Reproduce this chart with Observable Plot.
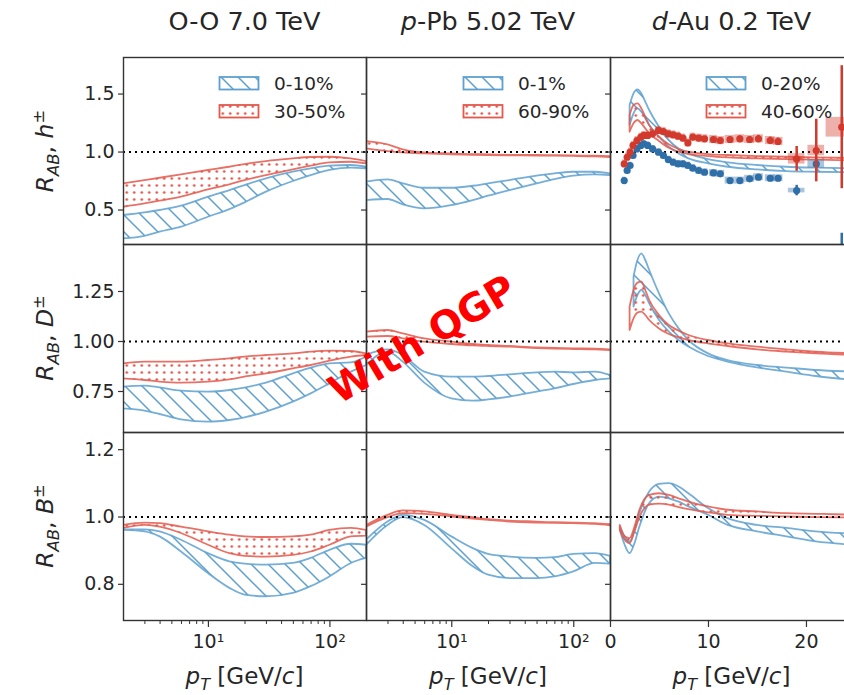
<!DOCTYPE html>
<html>
<head>
<meta charset="utf-8">
<script src="https://cdn.jsdelivr.net/npm/d3@7"></script>
<script src="https://cdn.jsdelivr.net/npm/@observablehq/plot@0.6"></script>
<style>
html, body { margin: 0; padding: 0; background: #fff; }
#fig { position: relative; width: 844px; height: 695px; overflow: hidden; font-family: "DejaVu Sans", sans-serif; color: #262626; }
#fig > * { position: absolute; }
.title { font-size: 25.5px; transform: translateX(-50%); white-space: nowrap; top: 6px; }
.ylab { font-size: 23.5px; white-space: nowrap; transform: translate(-50%, -50%) rotate(-90deg); left: 45px; }
.xlab { font-size: 23px; line-height: 23px; white-space: nowrap; transform: translateX(-50%); top: 665px; }
sub, sup { font-size: 70%; line-height: 0; }
.qgp { font-family: "DejaVu Sans", sans-serif; font-weight: bold; font-size: 39px; color: #ff0000; white-space: nowrap; left: 422px; top: 339px; transform: translate(-50%, -50%) rotate(-31deg); z-index: 10; }
</style>
</head>
<body>
<svg width="0" height="0" style="position:absolute;left:0;top:0">
  <defs>
    <pattern id="hatchB" patternUnits="userSpaceOnUse" width="17" height="17">
      <path d="M-3,-3L20,20M-3,14L3,20M14,-3L20,3" stroke="#5da0cf" stroke-width="1.5" fill="none"/>
    </pattern>
    <pattern id="dotsR" patternUnits="userSpaceOnUse" width="7.5" height="7">
      <circle cx="3.75" cy="3.5" r="1.35" fill="#e3584b"/>
    </pattern>
  </defs>
</svg>
<div id="fig"></div>
<script>
// ---------------- data ----------------
const colTitles = ["O-O 7.0 TeV", "<i>p</i>-Pb 5.02 TeV", "<i>d</i>-Au 0.2 TeV"];
const rowLabels = ["<i>R</i><sub><i>AB</i></sub>, <i>h</i><sup>±</sup>", "<i>R</i><sub><i>AB</i></sub>, <i>D</i><sup>±</sup>", "<i>R</i><sub><i>AB</i></sub>, <i>B</i><sup>±</sup>"];
const xLabel = "<i>p</i><sub><i>T</i></sub> [GeV/<i>c</i>]";
const legendLabels = [["0-10%", "30-50%"], ["0-1%", "60-90%"], ["0-20%", "40-60%"]];

const ptLog = [2, 3, 4, 6, 10, 15, 20, 30, 50, 70, 100, 150, 200];
const ptDau = [2.0, 2.4, 2.8, 3.2, 3.6, 4.0, 5, 6, 7, 8, 10, 12, 15, 18, 21, 25];
const ptDauB = [1.0, 1.5, 2.0, 2.5, 3, 4, 5, 6, 7, 8, 10, 12, 15, 18, 21, 25];

// O-O h
const ooH_redHi = [0.726,0.754,0.774,0.803,0.841,0.869,0.892,0.918,0.941,0.953,0.955,0.941,0.918];
const ooH_redLo = [0.524,0.553,0.576,0.611,0.674,0.717,0.754,0.797,0.846,0.878,0.907,0.912,0.898];
const ooH_blueHi = [0.453,0.476,0.496,0.533,0.611,0.668,0.711,0.769,0.826,0.855,0.878,0.884,0.869];
const ooH_blueLo = [0.251,0.274,0.309,0.352,0.438,0.504,0.562,0.654,0.746,0.797,0.841,0.861,0.855];
// p-Pb h
const ppH_redHi = [1.090,1.062,1.019,0.993,0.984,0.978,0.976,0.972,0.970,0.968,0.966,0.964,0.961];
const ppH_redLo = [1.027,1.004,0.993,0.984,0.976,0.972,0.970,0.968,0.966,0.964,0.962,0.958,0.952];
const ppH_blueHi = [0.740,0.760,0.726,0.688,0.688,0.705,0.726,0.754,0.792,0.812,0.826,0.826,0.812];
const ppH_blueLo = [0.582,0.591,0.545,0.510,0.539,0.582,0.619,0.668,0.726,0.763,0.792,0.803,0.797];
// d-Au h
const daH_blueHi = [1.401,1.501,1.536,1.501,1.430,1.358,1.214,1.099,1.027,0.984,0.935,0.907,0.884,0.869,0.861,0.855];
const daH_blueLo = [1.228,1.329,1.372,1.343,1.286,1.228,1.128,1.042,0.984,0.941,0.898,0.869,0.846,0.832,0.826,0.820];
const daH_redHi = [1.315,1.401,1.415,1.372,1.300,1.228,1.128,1.062,1.022,0.999,0.978,0.970,0.961,0.955,0.950,0.944];
const daH_redLo = [1.171,1.243,1.272,1.243,1.200,1.157,1.091,1.033,0.999,0.978,0.961,0.950,0.941,0.935,0.930,0.924];
// O-O D
const ooD_redHi = [0.888,0.897,0.897,0.897,0.905,0.913,0.922,0.930,0.938,0.947,0.952,0.950,0.938];
const ooD_redLo = [0.813,0.805,0.797,0.792,0.797,0.808,0.822,0.838,0.863,0.880,0.902,0.922,0.930];
const ooD_blueHi = [0.772,0.777,0.768,0.752,0.747,0.755,0.767,0.792,0.838,0.867,0.888,0.893,0.922];
const ooD_blueLo = [0.663,0.652,0.635,0.608,0.597,0.605,0.618,0.647,0.697,0.738,0.788,0.847,0.880];
// p-Pb D
const ppD_redHi = [1.047,1.055,1.038,1.013,0.997,0.985,0.980,0.975,0.968,0.965,0.963,0.962,0.958];
const ppD_redLo = [1.022,1.025,1.013,0.997,0.985,0.978,0.975,0.972,0.965,0.962,0.960,0.958,0.955];
const ppD_blueHi = [0.930,0.958,0.930,0.847,0.822,0.822,0.825,0.833,0.843,0.847,0.843,0.847,0.830];
const ppD_blueLo = [0.880,0.947,0.897,0.792,0.713,0.702,0.708,0.722,0.747,0.763,0.785,0.805,0.813];
// d-Au D
const daD_blueHi = [NaN,1.322,1.405,1.438,1.405,1.355,1.238,1.138,1.063,1.005,0.938,0.905,0.880,0.867,0.855,0.847];
const daD_blueLo = [NaN,1.172,1.230,1.255,1.230,1.188,1.105,1.047,1.005,0.972,0.925,0.897,0.868,0.847,0.825,0.805];
const daD_redHi = [1.172,1.255,1.292,1.297,1.255,1.205,1.130,1.080,1.052,1.030,1.005,0.988,0.972,0.958,0.947,0.938];
const daD_redLo = [1.055,1.113,1.142,1.147,1.130,1.105,1.063,1.035,1.018,1.005,0.988,0.975,0.958,0.947,0.938,0.930];
// O-O B
const ooB_redHi = [0.975,0.982,0.980,0.970,0.956,0.946,0.941,0.939,0.941,0.946,0.960,0.966,0.960];
const ooB_redLo = [0.966,0.975,0.970,0.951,0.916,0.891,0.883,0.881,0.886,0.896,0.916,0.941,0.943];
const ooB_blueHi = [0.962,0.962,0.956,0.931,0.891,0.867,0.860,0.857,0.862,0.877,0.901,0.919,0.916];
const ooB_blueLo = [0.960,0.956,0.941,0.896,0.832,0.788,0.768,0.763,0.773,0.793,0.822,0.862,0.877];
// p-Pb B
const ppB_redHi = [0.975,1.005,1.018,1.015,1.005,0.998,0.992,0.988,0.985,0.983,0.982,0.980,0.977];
const ppB_redLo = [0.970,0.998,1.010,1.008,1.000,0.994,0.990,0.985,0.982,0.981,0.980,0.978,0.974];
const ppB_blueHi = [0.931,0.985,1.005,0.990,0.941,0.906,0.889,0.881,0.877,0.879,0.889,0.891,0.883];
const ppB_blueLo = [0.916,0.975,0.998,0.975,0.906,0.852,0.827,0.817,0.817,0.822,0.837,0.862,0.860];
// d-Au B
const daB_blueHi = [0.970,0.941,0.926,0.960,1.010,1.074,1.097,1.099,1.089,1.069,1.025,0.995,0.975,0.966,0.956,0.949];
const daB_blueLo = [0.960,0.916,0.891,0.921,0.970,1.040,1.059,1.054,1.044,1.030,1.005,0.975,0.956,0.941,0.926,0.916];
const daB_redHi = [0.975,0.941,0.936,0.970,1.020,1.064,1.069,1.064,1.054,1.044,1.030,1.020,1.015,1.010,1.008,1.005];
const daB_redLo = [0.960,0.931,0.921,0.956,0.998,1.035,1.038,1.035,1.028,1.022,1.012,1.005,1.002,1.000,0.998,0.997];

// d-Au h± measured data, 0-20% (blue) and 40-60% (red)
const dauPt   = [1.4,1.7,2.0,2.3,2.7,3.1,3.4,3.8,4.3,4.9,5.4,5.9,6.4,6.9,7.4,7.9,8.4,9.0,9.6,10.5,11.2,12.2,13.2,14.2,15.1,16.3,17.1,19.0,21.0,23.6];
const dauXerr = [0.17,0.17,0.17,0.18,0.2,0.2,0.2,0.22,0.25,0.27,0.27,0.27,0.27,0.27,0.27,0.27,0.28,0.3,0.35,0.4,0.45,0.5,0.5,0.5,0.5,0.5,0.5,0.85,0.85,1.6];
const dauRed  = [0.898,0.955,0.999,1.057,1.099,1.128,1.143,1.143,1.157,1.186,1.177,1.157,1.148,1.137,1.120,1.079,1.128,1.120,1.114,1.108,1.099,1.108,1.114,1.108,1.114,1.099,1.091,0.941,1.013,1.214];
const dauRedSys  = [0.035,0.035,0.035,0.035,0.035,0.035,0.035,0.035,0.035,0.035,0.035,0.035,0.035,0.035,0.035,0.035,0.035,0.035,0.035,0.035,0.035,0.035,0.035,0.035,0.035,0.035,0.035,0.045,0.045,0.085];
const dauRedStat = [0.01,0.01,0.01,0.01,0.01,0.01,0.01,0.01,0.01,0.01,0.01,0.01,0.015,0.015,0.015,0.015,0.02,0.02,0.02,0.02,0.02,0.02,0.025,0.025,0.03,0.03,0.03,0.107,0.27,0.53];
const dauBlue = [0.754,0.841,0.884,0.970,1.027,1.057,1.071,1.057,1.027,0.999,0.970,0.935,0.912,0.898,0.898,0.884,0.861,0.841,0.826,0.820,0.812,0.754,0.754,0.769,0.783,0.774,0.774,0.668,0.898,0.15];
const dauBlueSys  = [0.03,0.03,0.03,0.03,0.03,0.03,0.03,0.03,0.03,0.03,0.03,0.03,0.03,0.03,0.03,0.03,0.03,0.03,0.03,0.03,0.03,0.03,0.03,0.03,0.03,0.03,0.03,0.02,0.035,0.05];
const dauBlueStat = [0.01,0.01,0.01,0.01,0.01,0.01,0.01,0.01,0.01,0.01,0.01,0.01,0.01,0.01,0.01,0.01,0.01,0.01,0.015,0.015,0.015,0.015,0.015,0.02,0.02,0.02,0.02,0.045,0.035,0.15];

const yTicksRows = [[0.5, 1.0, 1.5], [0.75, 1.00, 1.25], [0.8, 1.0, 1.2]];
const yFmtRows = [".1f", ".2f", ".1f"];
const yDomRows = [[0.203, 1.815], [0.545, 1.485], [0.6925, 1.251]];
const logMajor = [10, 100];
const logMajorLabels = ["10¹", "10²"];
const logMinor = [3,4,5,6,7,8,9,20,30,40,50,60,70,80,90];
const linTicks = [0, 10, 20];

// ---------------- layout / style ----------------
const COL_X = [123, 366, 610];
const COL_W = [243, 244, 243];
const ROW_Y = [57, 244, 432];
const ROW_H = [187, 188, 188];
const BLUE = "#5da0cf", RED = "#e3584b";
const BLUE_D = "#2f6fa8", RED_D = "#d13a2c";
const AX = "#333333";

const fig = document.getElementById("fig");

const bandsFor = [
  [[ptLog, ooH_blueHi, ooH_blueLo, ptLog, ooH_redHi, ooH_redLo], [ptLog, ppH_blueHi, ppH_blueLo, ptLog, ppH_redHi, ppH_redLo], [ptDau, daH_blueHi, daH_blueLo, ptDau, daH_redHi, daH_redLo]],
  [[ptLog, ooD_blueHi, ooD_blueLo, ptLog, ooD_redHi, ooD_redLo], [ptLog, ppD_blueHi, ppD_blueLo, ptLog, ppD_redHi, ppD_redLo], [ptDau, daD_blueHi, daD_blueLo, ptDau, daD_redHi, daD_redLo]],
  [[ptLog, ooB_blueHi, ooB_blueLo, ptLog, ooB_redHi, ooB_redLo], [ptLog, ppB_blueHi, ppB_blueLo, ptLog, ppB_redHi, ppB_redLo], [ptDauB, daB_blueHi, daB_blueLo, ptDauB, daB_redHi, daB_redLo]]
];

function bandData(xs, hi, lo) { return xs.map((x, i) => ({x, hi: hi[i], lo: lo[i]})); }

const dauData = dauPt.map((x, i) => ({
  x, xe: dauXerr[i],
  r: dauRed[i], rs: dauRedSys[i], rst: dauRedStat[i],
  b: dauBlue[i], bs: dauBlueSys[i], bst: dauBlueStat[i]
}));

for (let row = 0; row < 3; row++) {
  for (let col = 0; col < 3; col++) {
    const W = COL_W[col], H = ROW_H[row];
    const mL = col === 0 ? 90 : 8, mR = 1, mT = 1, mB = row === 2 ? 48 : 1;
    const isLog = col < 2;
    const [bx, bhi, blo, rx, rhi, rlo] = bandsFor[row][col];
    const marks = [
      Plot.areaY(bandData(bx, bhi, blo), {x: "x", y1: "lo", y2: "hi", fill: "url(#hatchB)", stroke: BLUE, strokeWidth: 1.8, strokeOpacity: 0.85, curve: "monotone-x", clip: true}),
      Plot.areaY(bandData(rx, rhi, rlo), {x: "x", y1: "lo", y2: "hi", fill: "url(#dotsR)", stroke: RED, strokeWidth: 1.8, strokeOpacity: 0.85, curve: "monotone-x", clip: true}),
      Plot.ruleY([1], {stroke: "#000", strokeWidth: 2, strokeDasharray: "2,4"})
    ];
    if (row === 0 && col === 2) {
      for (const [v, s, st, c] of [["b", "bs", "bst", BLUE_D], ["r", "rs", "rst", RED_D]]) {
        marks.push(
          Plot.rect(dauData, {x1: d => d.x - d.xe, x2: d => d.x + d.xe, y1: d => d[v] - d[s], y2: d => d[v] + d[s], fill: c, fillOpacity: 0.4, clip: true}),
          Plot.ruleX(dauData, {x: "x", y1: d => d[v] - d[st], y2: d => d[v] + d[st], stroke: c, strokeWidth: 2.5, clip: true}),
          Plot.dot(dauData, {x: "x", y: v, r: 3.6, fill: c, stroke: "none", clip: true})
        );
      }
    }
    marks.push(Plot.axisY(yTicksRows[row], {
      tickSize: 5, tickPadding: 4, strokeWidth: 1.2, stroke: AX, label: null,
      tickFormat: col === 0 ? d3.format(yFmtRows[row]) : () => ""
    }));
    if (row === 2) {
      if (isLog) {
        marks.push(
          Plot.axisX(logMinor, {tickSize: 4, strokeWidth: 1, stroke: AX, tickFormat: () => "", label: null}),
          Plot.axisX(logMajor, {tickSize: 7, tickPadding: 7, strokeWidth: 1.2, stroke: AX, label: null, tickFormat: d => logMajorLabels[logMajor.indexOf(d)]})
        );
      } else {
        marks.push(Plot.axisX(linTicks, {tickSize: 7, tickPadding: 7, strokeWidth: 1.2, stroke: AX, label: null, tickFormat: d3.format("d")}));
      }
    }
    marks.push(Plot.frame({stroke: AX, strokeWidth: 1.4}));

    const svg = Plot.plot({
      width: W + mL + mR, height: H + mT + mB,
      marginLeft: mL, marginRight: mR, marginTop: mT, marginBottom: mB,
      x: isLog ? {type: "log", domain: [2, 200], axis: null, label: null} : {type: "linear", domain: [0, 24.8], axis: null, label: null},
      y: {domain: yDomRows[row], axis: null, label: null},
      style: {background: "transparent", overflow: "visible", fontFamily: "DejaVu Sans, sans-serif", fontSize: "19px", color: "#262626"},
      marks
    });
    svg.style.left = (COL_X[col] - mL) + "px";
    svg.style.top = (ROW_Y[row] - mT) + "px";
    fig.appendChild(svg);
  }
}

// titles
colTitles.forEach((t, col) => {
  const d = document.createElement("div");
  d.className = "title";
  d.innerHTML = t;
  d.style.left = (COL_X[col] + COL_W[col] / 2) + "px";
  fig.appendChild(d);
});
// row labels
rowLabels.forEach((t, row) => {
  const d = document.createElement("div");
  d.className = "ylab";
  d.innerHTML = t;
  d.style.top = (ROW_Y[row] + ROW_H[row] / 2) + "px";
  fig.appendChild(d);
});
// x labels
for (let col = 0; col < 3; col++) {
  const d = document.createElement("div");
  d.className = "xlab";
  d.innerHTML = xLabel;
  d.style.left = (COL_X[col] + COL_W[col] / 2) + "px";
  fig.appendChild(d);
}
// legends
const legendX = [219, 463, 706];
legendLabels.forEach((labs, col) => {
  const ns = "http://www.w3.org/2000/svg";
  const s = document.createElementNS(ns, "svg");
  s.setAttribute("width", 150); s.setAttribute("height", 46);
  s.style.left = legendX[col] + "px"; s.style.top = "75px"; s.style.overflow = "visible";
  const fills = ["url(#hatchB)", "url(#dotsR)"], strokes = [BLUE, RED];
  labs.forEach((lab, i) => {
    const y = 2 + i * 28;
    const r = document.createElementNS(ns, "rect");
    r.setAttribute("x", 0.5); r.setAttribute("y", y); r.setAttribute("width", 39); r.setAttribute("height", 12.5);
    r.setAttribute("fill", fills[i]); r.setAttribute("stroke", strokes[i]); r.setAttribute("stroke-width", 1.8);
    s.appendChild(r);
    const t = document.createElementNS(ns, "text");
    t.setAttribute("x", 55); t.setAttribute("y", y + 6.5); t.setAttribute("dy", "0.36em");
    t.setAttribute("font-family", "DejaVu Sans, sans-serif"); t.setAttribute("font-size", 18.5); t.setAttribute("fill", "#262626");
    t.textContent = lab;
    s.appendChild(t);
  });
  fig.appendChild(s);
});
// annotation
const q = document.createElement("div");
q.className = "qgp";
q.textContent = "With QGP";
fig.appendChild(q);
</script>
</body>
</html>
